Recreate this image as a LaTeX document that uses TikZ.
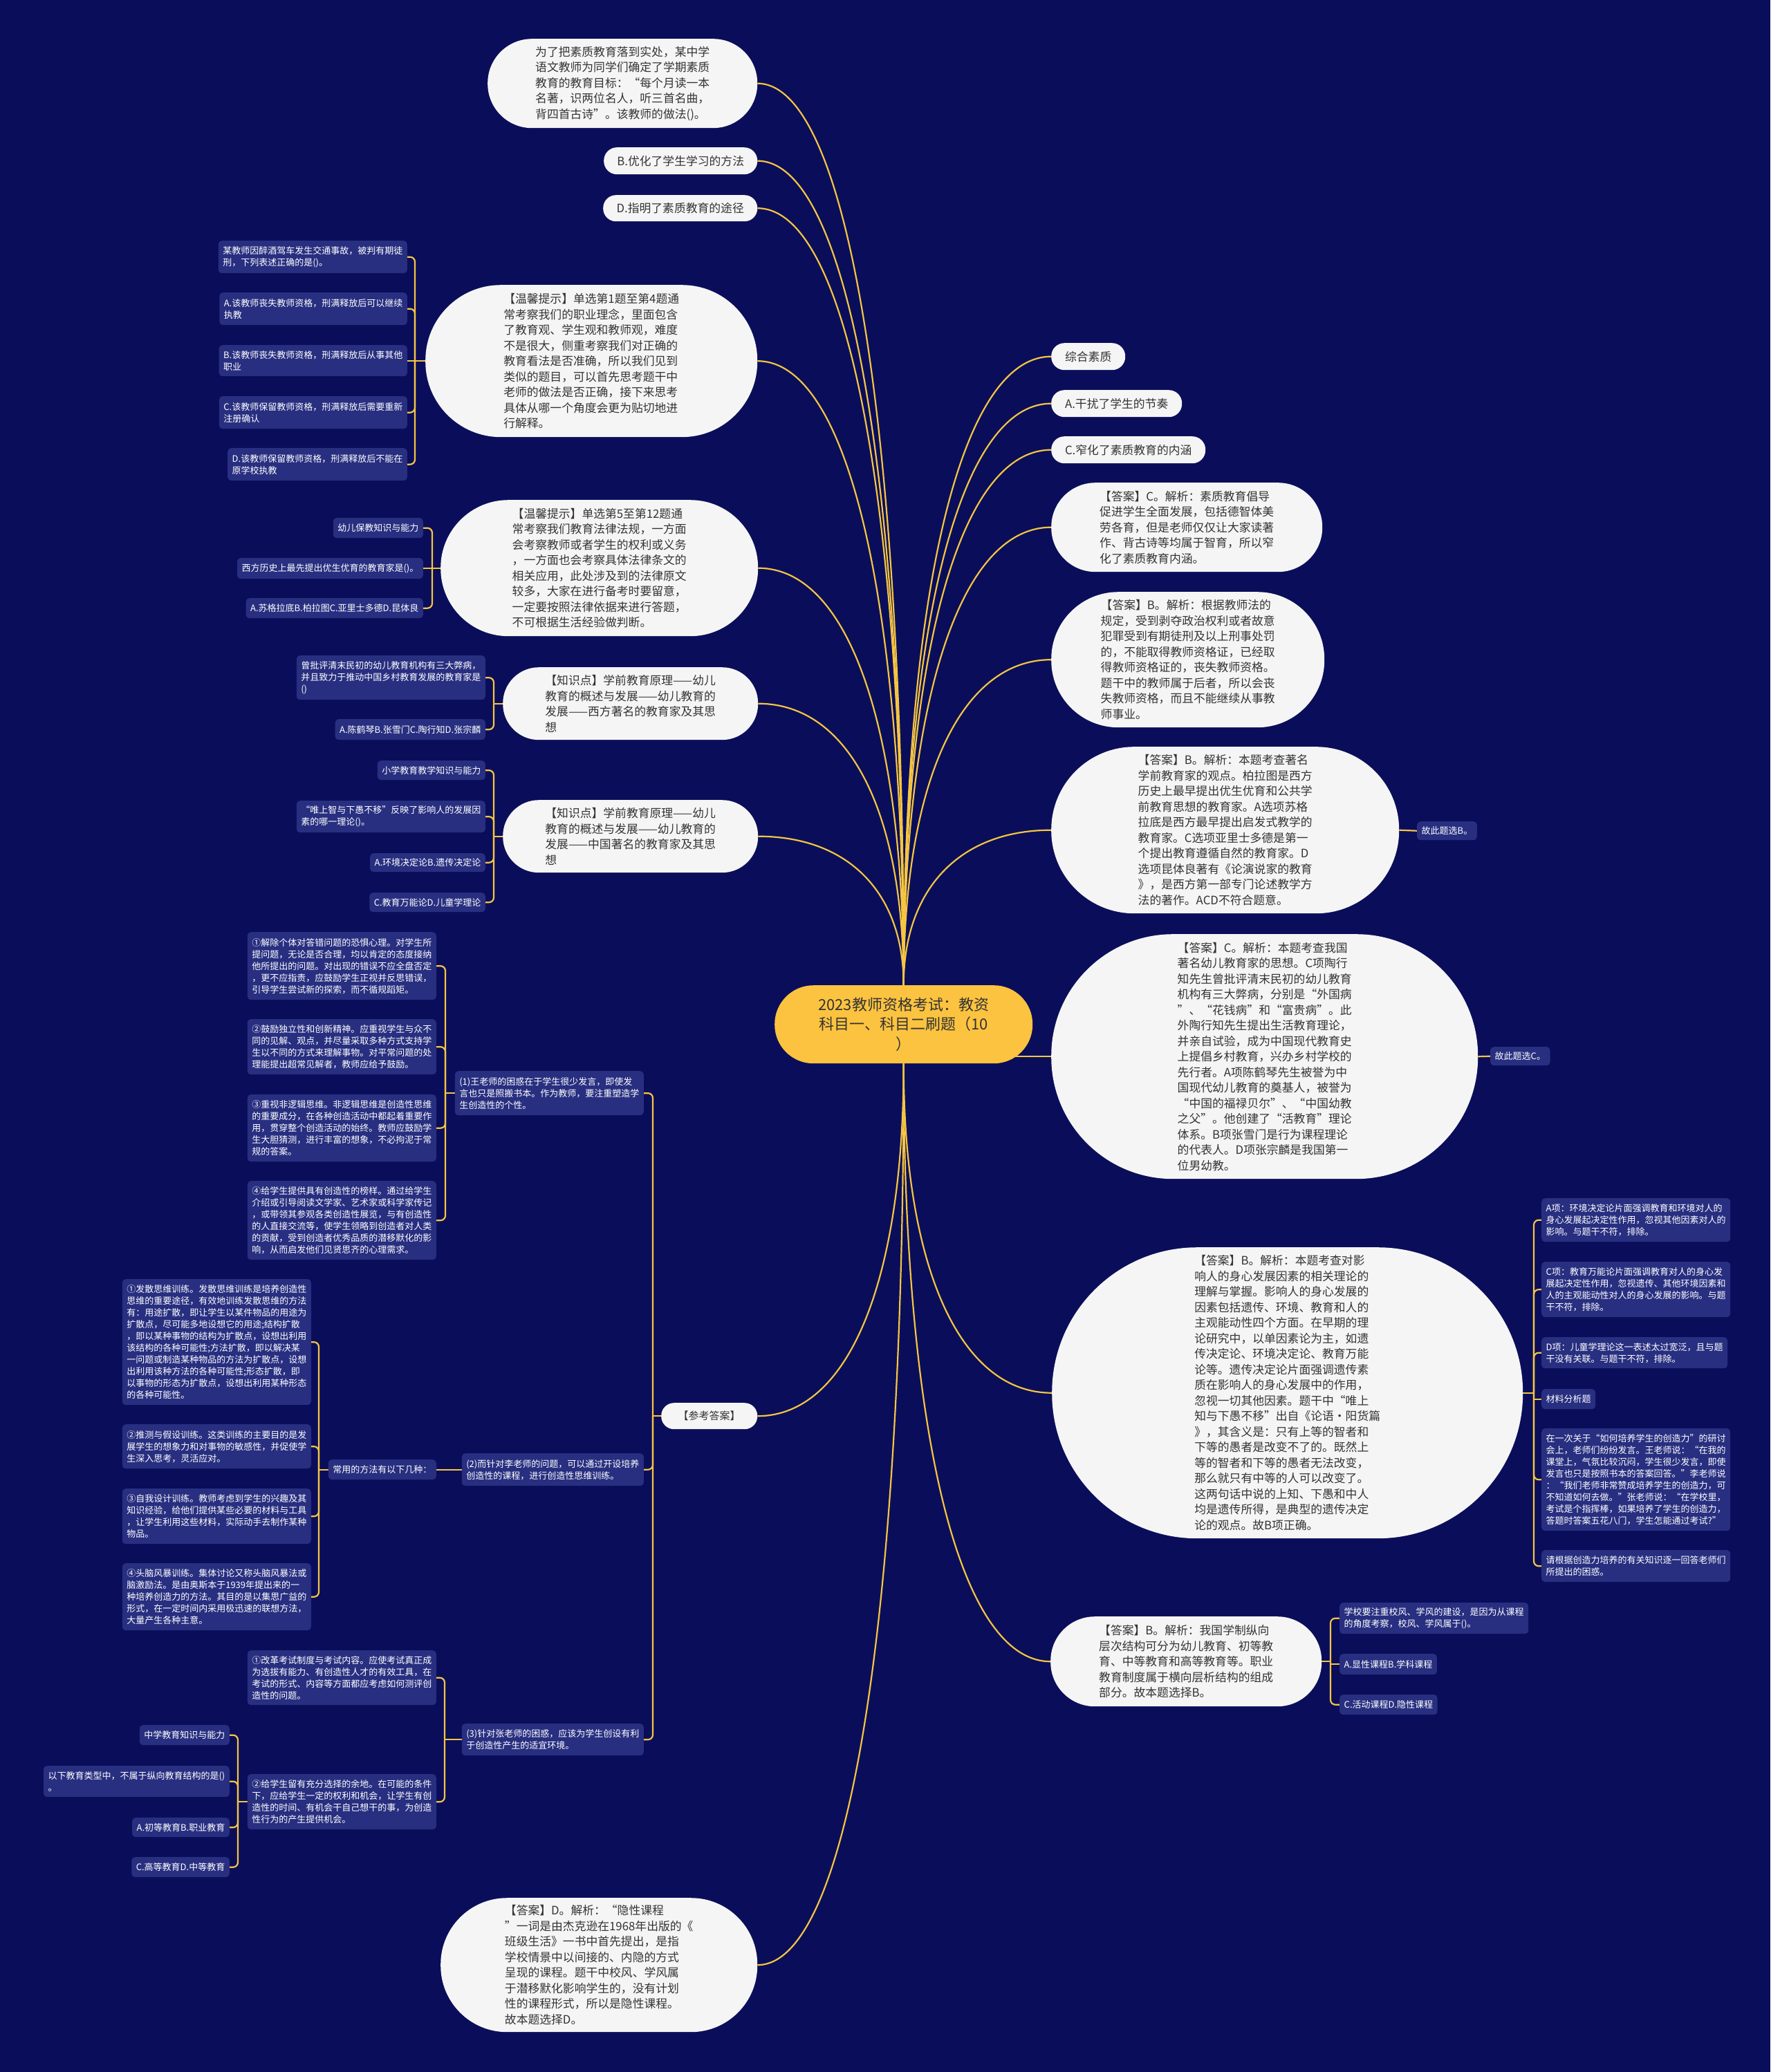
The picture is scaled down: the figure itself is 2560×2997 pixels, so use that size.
\documentclass[tikz,border=0pt]{standalone}
\usepackage{fontspec}
\setmainfont{Noto Sans CJK SC}
\usetikzlibrary{calc}
\definecolor{bgc}{HTML}{0A0E5A}
\definecolor{lnc}{HTML}{F5C542}
\definecolor{cen}{HTML}{FCC340}
\definecolor{wfl}{HTML}{F5F5F5}
\definecolor{dfl}{HTML}{282F80}
\definecolor{tdk}{HTML}{333333}
\pgfdeclarelayer{bgl}\pgfdeclarelayer{edl}\pgfsetlayers{bgl,edl,main}
\newcommand\mmlink[2]{\draw[ln] (#1) .. controls ($(#1)!0.62!(#1|-#2)$) and ($(#2)!0.62!(#1|-#2)$) .. (#2);}
\newcommand\mmstem[2]{\draw[ln] (#1) -- (#1-|#2);}
\newcommand\mmbrk[3]{\draw[ln,rounded corners=7pt] (#1-|#2) |- (#3);}
\newcommand\mmbrs[3]{\draw[ln] (#1-|#2) |- (#3);}
\tikzset{
 ln/.style={draw=lnc, line width=2.2pt},
 wt/.style={fill=wfl, text=tdk, align=left, inner sep=0pt, anchor=north west, font=\fontsize{16.8}{22.5}\selectfont},
 dk/.style={fill=dfl, text=white, align=left, inner xsep=6.5pt, inner ysep=0pt, rounded corners=5pt, anchor=north east, font=\fontsize{13}{17}\selectfont},
 dkr/.style={dk, anchor=north west},
}
\begin{document}
\begin{tikzpicture}[x=1pt,y=-1pt]
\useasboundingbox (0,0) rectangle (2560,2997);
\begin{pgfonlayer}{bgl}
\fill[bgc] (0,0) rectangle (2560,2997);
\end{pgfonlayer}

% center
\node[fill=cen, text=tdk, align=center, inner sep=0pt, minimum width=373pt, minimum height=113pt, rounded corners=56pt, anchor=north west, font=\fontsize{22}{28.5}\selectfont] (c) at (1120,1425) {2023教师资格考试：教资\\科目一、科目二刷题（10\\）};

% left white nodes
\node[wt, minimum width=390pt, minimum height=129pt, rounded corners=64pt] (n1) at (705,56) {为了把素质教育落到实处，某中学\\语文教师为同学们确定了学期素质\\教育的教育目标：“每个月读一本\\名著，识两位名人，听三首名曲，\\背四首古诗”。该教师的做法()。};
\node[wt, minimum width=222pt, minimum height=39pt, rounded corners=19pt] (n2) at (873,213) {B.优化了学生学习的方法};
\node[wt, minimum width=223pt, minimum height=38pt, rounded corners=18.5pt] (n3) at (872,282) {D.指明了素质教育的途径};
\node[wt, minimum width=480pt, minimum height=220pt, rounded corners=109pt] (t1) at (615,412) {【温馨提示】单选第1题至第4题通\\常考察我们的职业理念，里面包含\\了教育观、学生观和教师观，难度\\不是很大，侧重考察我们对正确的\\教育看法是否准确，所以我们见到\\类似的题目，可以首先思考题干中\\老师的做法是否正确，接下来思考\\具体从哪一个角度会更为贴切地进\\行解释。};
\node[wt, minimum width=459pt, minimum height=197pt, rounded corners=98pt] (t2) at (637,723) {【温馨提示】单选第5至第12题通\\常考察我们教育法律法规，一方面\\会考察教师或者学生的权利或义务\\，一方面也会考察具体法律条文的\\相关应用，此处涉及到的法律原文\\较多，大家在进行备考时要留意，\\一定要按照法律依据来进行答题，\\不可根据生活经验做判断。};
\node[wt, minimum width=369pt, minimum height=105pt, rounded corners=52pt] (k1) at (727,965) {【知识点】学前教育原理——幼儿\\教育的概述与发展——幼儿教育的\\发展——西方著名的教育家及其思\\想};
\node[wt, minimum width=369pt, minimum height=105pt, rounded corners=52pt] (k2) at (727,1157) {【知识点】学前教育原理——幼儿\\教育的概述与发展——幼儿教育的\\发展——中国著名的教育家及其思\\想};

% tip1 children
\node[dk, minimum height=47pt] (q1) at (589,348) {某教师因醉酒驾车发生交通事故，被判有期徒\\刑，下列表述正确的是()。};
\node[dk, minimum height=47pt] (qa) at (589,423) {A.该教师丧失教师资格，刑满释放后可以继续\\执教};
\node[dk, minimum height=45pt] (qb) at (589,499) {B.该教师丧失教师资格，刑满释放后从事其他\\职业};
\node[dk, minimum height=47pt] (qc) at (589,573) {C.该教师保留教师资格，刑满释放后需要重新\\注册确认};
\node[dk, minimum height=47pt] (qd) at (589,648) {D.该教师保留教师资格，刑满释放后不能在\\原学校执教};

% tip2 children
\node[dk, minimum height=29pt] (s1) at (612,749) {幼儿保教知识与能力};
\node[dk, minimum height=30pt] (s2) at (612,807) {西方历史上最先提出优生优育的教育家是()。};
\node[dk, minimum height=29pt] (s3) at (612,865) {A.苏格拉底B.柏拉图C.亚里士多德D.昆体良};

% k1 children
\node[dk, minimum height=64pt] (u1) at (702,948) {曾批评清末民初的幼儿教育机构有三大弊病，\\并且致力于推动中国乡村教育发展的教育家是\\()};
\node[dk, minimum height=30pt] (u2) at (702,1040) {A.陈鹤琴B.张雪门C.陶行知D.张宗麟};

% k2 children
\node[dk, minimum height=28pt] (v1) at (702,1100) {小学教育教学知识与能力};
\node[dk, minimum height=46pt] (v2) at (702,1158) {“唯上智与下愚不移”反映了影响人的发展因\\素的哪一理论()。};
\node[dk, minimum height=27pt] (v3) at (702,1234) {A.环境决定论B.遗传决定论};
\node[dk, minimum height=28pt] (v4) at (702,1291) {C.教育万能论D.儿童学理论};

% reference answer
\node[wt, align=center, minimum width=139pt, minimum height=38pt, rounded corners=18.5pt, font=\fontsize{15}{20}\selectfont] (ra) at (956,2029) {【参考答案】};
\node[dk, minimum height=64pt] (p1) at (931,1549) {(1)王老师的困惑在于学生很少发言，即使发\\言也只是照搬书本。作为教师，要注重塑造学\\生创造性的个性。};
\node[dk, minimum height=47pt] (p2) at (931,2102) {(2)而针对李老师的问题，可以通过开设培养\\创造性的课程，进行创造性思维训练。};
\node[dk, minimum height=46pt] (p3) at (931,2493) {(3)针对张老师的困惑，应该为学生创设有利\\于创造性产生的适宜环境。};

\node[dk, minimum height=98pt] (w1) at (631,1348) {①解除个体对答错问题的恐惧心理。对学生所\\提问题，无论是否合理，均以肯定的态度接纳\\他所提出的问题。对出现的错误不应全盘否定\\，更不应指责，应鼓励学生正视并反思错误，\\引导学生尝试新的探索，而不循规蹈矩。};
\node[dk, minimum height=80pt] (w2) at (631,1474) {②鼓励独立性和创新精神。应重视学生与众不\\同的见解、观点，并尽量采取多种方式支持学\\生以不同的方式来理解事物。对平常问题的处\\理能提出超常见解者，教师应给予鼓励。};
\node[dk, minimum height=97pt] (w3) at (631,1583) {③重视非逻辑思维。非逻辑思维是创造性思维\\的重要成分，在各种创造活动中都起着重要作\\用，贯穿整个创造活动的始终。教师应鼓励学\\生大胆猜测，进行丰富的想象，不必拘泥于常\\规的答案。};
\node[dk, minimum height=114pt] (w4) at (631,1708) {④给学生提供具有创造性的榜样。通过给学生\\介绍或引导阅读文学家、艺术家或科学家传记\\，或带领其参观各类创造性展览，与有创造性\\的人直接交流等，使学生领略到创造者对人类\\的贡献，受到创造者优秀品质的潜移默化的影\\响，从而启发他们见贤思齐的心理需求。};

\node[dk, minimum height=29pt] (cy) at (631,2111) {常用的方法有以下几种：};
\node[dk, minimum height=182pt] (x1) at (450,1850) {①发散思维训练。发散思维训练是培养创造性\\思维的重要途径，有效地训练发散思维的方法\\有：用途扩散，即让学生以某件物品的用途为\\扩散点，尽可能多地设想它的用途;结构扩散\\，即以某种事物的结构为扩散点，设想出利用\\该结构的各种可能性;方法扩散，即以解决某\\一问题或制造某种物品的方法为扩散点，设想\\出利用该种方法的各种可能性;形态扩散，即\\以事物的形态为扩散点，设想出利用某种形态\\的各种可能性。};
\node[dk, minimum height=64pt] (x2) at (450,2060) {②推测与假设训练。这类训练的主要目的是发\\展学生的想象力和对事物的敏感性，并促使学\\生深入思考，灵活应对。};
\node[dk, minimum height=80pt] (x3) at (450,2153) {③自我设计训练。教师考虑到学生的兴趣及其\\知识经验，给他们提供某些必要的材料与工具\\，让学生利用这些材料，实际动手去制作某种\\物品。};
\node[dk, minimum height=97pt] (x4) at (450,2261) {④头脑风暴训练。集体讨论又称头脑风暴法或\\脑激励法。是由奥斯本于1939年提出来的一\\种培养创造力的方法。其目的是以集思广益的\\形式，在一定时间内采用极迅速的联想方法，\\大量产生各种主意。};

\node[dk, minimum height=79pt] (y1) at (631,2387) {①改革考试制度与考试内容。应使考试真正成\\为选拔有能力、有创造性人才的有效工具，在\\考试的形式、内容等方面都应考虑如何测评创\\造性的问题。};
\node[dk, minimum height=80pt] (y2) at (631,2566) {②给学生留有充分选择的余地。在可能的条件\\下，应给学生一定的权利和机会，让学生有创\\造性的时间、有机会干自己想干的事，为创造\\性行为的产生提供机会。};

\node[dk, minimum height=29pt] (z1) at (332,2495) {中学教育知识与能力};
\node[dk, minimum height=45pt] (z2) at (332,2554) {以下教育类型中，不属于纵向教育结构的是()\\。};
\node[dk, minimum height=28pt] (z3) at (332,2629) {A.初等教育B.职业教育};
\node[dk, minimum height=29pt] (z4) at (332,2686) {C.高等教育D.中等教育};

\node[wt, minimum width=458pt, minimum height=194pt, rounded corners=96pt] (ad) at (637,2745) {【答案】D。解析：“隐性课程\\”一词是由杰克逊在1968年出版的《\\班级生活》一书中首先提出，是指\\学校情景中以间接的、内隐的方式\\呈现的课程。题干中校风、学风属\\于潜移默化影响学生的，没有计划\\性的课程形式，所以是隐性课程。\\故本题选择D。};

% right side
\node[wt, minimum width=107pt, minimum height=39pt, rounded corners=19pt] (r1) at (1520,496) {综合素质};
\node[wt, minimum width=189pt, minimum height=39pt, rounded corners=19pt] (r2) at (1520,564) {A.干扰了学生的节奏};
\node[wt, minimum width=223pt, minimum height=39pt, rounded corners=19pt] (r3) at (1520,631) {C.窄化了素质教育的内涵};
\node[wt, minimum width=392pt, minimum height=129pt, rounded corners=64pt] (a1) at (1520,698) {【答案】C。解析：素质教育倡导\\促进学生全面发展，包括德智体美\\劳各育，但是老师仅仅让大家读著\\作、背古诗等均属于智育，所以窄\\化了素质教育内涵。};
\node[wt, minimum width=395pt, minimum height=196pt, rounded corners=97pt] (a2) at (1520,856) {【答案】B。解析：根据教师法的\\规定，受到剥夺政治权利或者故意\\犯罪受到有期徒刑及以上刑事处罚\\的，不能取得教师资格证，已经取\\得教师资格证的，丧失教师资格。\\题干中的教师属于后者，所以会丧\\失教师资格，而且不能继续从事教\\师事业。};
\node[wt, minimum width=503pt, minimum height=241pt, rounded corners=120pt] (a3) at (1520,1080) {【答案】B。解析：本题考查著名\\学前教育家的观点。柏拉图是西方\\历史上最早提出优生优育和公共学\\前教育思想的教育家。A选项苏格\\拉底是西方最早提出启发式教学的\\教育家。C选项亚里士多德是第一\\个提出教育遵循自然的教育家。D\\选项昆体良著有《论演说家的教育\\》，是西方第一部专门论述教学方\\法的著作。ACD不符合题意。};
\node[dkr, minimum height=27pt] (g1) at (2049,1188) {故此题选B。};
\node[wt, minimum width=617pt, minimum height=354pt, rounded corners=176pt] (a4) at (1520,1351) {【答案】C。解析：本题考查我国\\著名幼儿教育家的思想。C项陶行\\知先生曾批评清末民初的幼儿教育\\机构有三大弊病，分别是“外国病\\”、“花钱病”和“富贵病”。此\\外陶行知先生提出生活教育理论，\\并亲自试验，成为中国现代教育史\\上提倡乡村教育，兴办乡村学校的\\先行者。A项陈鹤琴先生被誉为中\\国现代幼儿教育的奠基人，被誉为\\“中国的福禄贝尔”、“中国幼教\\之父”。他创建了“活教育”理论\\体系。B项张雪门是行为课程理论\\的代表人。D项张宗麟是我国第一\\位男幼教。};
\node[dkr, minimum height=27pt] (g2) at (2155,1514) {故此题选C。};
\node[wt, minimum width=681pt, minimum height=421pt, rounded corners=210pt] (a5) at (1521,1804) {【答案】B。解析：本题考查对影\\响人的身心发展因素的相关理论的\\理解与掌握。影响人的身心发展的\\因素包括遗传、环境、教育和人的\\主观能动性四个方面。在早期的理\\论研究中，以单因素论为主，如遗\\传决定论、环境决定论、教育万能\\论等。遗传决定论片面强调遗传素\\质在影响人的身心发展中的作用，\\忽视一切其他因素。题干中“唯上\\知与下愚不移”出自《论语·阳货篇\\》，其含义是：只有上等的智者和\\下等的愚者是改变不了的。既然上\\等的智者和下等的愚者无法改变，\\那么就只有中等的人可以改变了。\\这两句话中说的上知、下愚和中人\\均是遗传所得，是典型的遗传决定\\论的观点。故B项正确。};
\node[dkr, minimum height=63pt] (h1) at (2229,1733) {A项：环境决定论片面强调教育和环境对人的\\身心发展起决定性作用，忽视其他因素对人的\\影响。与题干不符，排除。};
\node[dkr, minimum height=80pt] (h2) at (2229,1825) {C项：教育万能论片面强调教育对人的身心发\\展起决定性作用，忽视遗传、其他环境因素和\\人的主观能动性对人的身心发展的影响。与题\\干不符，排除。};
\node[dkr, minimum height=45pt] (h3) at (2229,1934) {D项：儿童学理论这一表述太过宽泛，且与题\\干没有关联。与题干不符，排除。};
\node[dkr, minimum height=29pt] (h4) at (2229,2009) {材料分析题};
\node[dkr, minimum height=148pt] (h5) at (2229,2066) {在一次关于“如何培养学生的创造力”的研讨\\会上，老师们纷纷发言。王老师说：“在我的\\课堂上，气氛比较沉闷，学生很少发言，即使\\发言也只是按照书本的答案回答。”李老师说\\：“我们老师非常赞成培养学生的创造力，可\\不知道如何去做。”张老师说：“在学校里，\\考试是个指挥棒，如果培养了学生的创造力，\\答题时答案五花八门，学生怎能通过考试?”};
\node[dkr, minimum height=46pt] (h6) at (2229,2242) {请根据创造力培养的有关知识逐一回答老师们\\所提出的困惑。};
\node[wt, minimum width=392pt, minimum height=130pt, rounded corners=64pt] (a6) at (1519,2338) {【答案】B。解析：我国学制纵向\\层次结构可分为幼儿教育、初等教\\育、中等教育和高等教育等。职业\\教育制度属于横向层析结构的组成\\部分。故本题选择B。};
\node[dkr, minimum height=45pt] (m1) at (1937,2318) {学校要注重校风、学风的建设，是因为从课程\\的角度考察，校风、学风属于()。};
\node[dkr, minimum height=30pt] (m2) at (1937,2392) {A.显性课程B.学科课程};
\node[dkr, minimum height=29pt] (m3) at (1937,2451) {C.活动课程D.隐性课程};

% bracket coordinates
\coordinate (b1) at (600,0);
\coordinate (b2) at (625,0);
\coordinate (b3) at (714,0);
\coordinate (b5) at (944,0);
\coordinate (b6) at (644,0);
\coordinate (b7) at (461,0);
\coordinate (b8) at (643,0);
\coordinate (b9) at (344,0);
\coordinate (b10) at (2218,0);
\coordinate (b11) at (1924,0);

\begin{pgfonlayer}{edl}
% from center
\mmlink{c.north}{n1.east}
\mmlink{c.north}{n2.east}
\mmlink{c.north}{n3.east}
\mmlink{c.north}{t1.east}
\mmlink{c.north}{t2.east}
\mmlink{c.north}{k1.east}
\mmlink{c.north}{k2.east}
\mmlink{c.north}{r1.west}
\mmlink{c.north}{r2.west}
\mmlink{c.north}{r3.west}
\mmlink{c.north}{a1.west}
\mmlink{c.north}{a2.west}
\mmlink{c.north}{a3.west}
\draw[ln] (c.center|-a4.west) -- (a4.west);
\mmlink{c.south}{ra.east}
\mmlink{c.south}{ad.east}
\mmlink{c.south}{a5.west}
\mmlink{c.south}{a6.west}
\draw[ln] (a3.east) -- (g1.west);
\draw[ln] (a4.east) -- (g2.west);

% tip1
\mmstem{t1.west}{b1}
\mmbrk{t1.west}{b1}{q1.east}
\mmbrk{t1.west}{b1}{qa.east}
\mmbrs{t1.west}{b1}{qb.east}
\mmbrk{t1.west}{b1}{qc.east}
\mmbrk{t1.west}{b1}{qd.east}
% tip2
\mmstem{t2.west}{b2}
\mmbrk{t2.west}{b2}{s1.east}
\mmbrs{t2.west}{b2}{s2.east}
\mmbrk{t2.west}{b2}{s3.east}
% k1
\mmstem{k1.west}{b3}
\mmbrk{k1.west}{b3}{u1.east}
\mmbrk{k1.west}{b3}{u2.east}
% k2
\mmstem{k2.west}{b3}
\mmbrk{k2.west}{b3}{v1.east}
\mmbrk{k2.west}{b3}{v2.east}
\mmbrk{k2.west}{b3}{v3.east}
\mmbrk{k2.west}{b3}{v4.east}
% reference answer
\mmstem{ra.west}{b5}
\mmbrk{ra.west}{b5}{p1.east}
\mmbrk{ra.west}{b5}{p2.east}
\mmbrk{ra.west}{b5}{p3.east}
% (1)
\mmstem{p1.west}{b6}
\mmbrk{p1.west}{b6}{w1.east}
\mmbrk{p1.west}{b6}{w2.east}
\mmbrk{p1.west}{b6}{w3.east}
\mmbrk{p1.west}{b6}{w4.east}
% (2)
\draw[ln] (p2.west) -- (cy.east);
\mmstem{cy.west}{b7}
\mmbrk{cy.west}{b7}{x1.east}
\mmbrk{cy.west}{b7}{x2.east}
\mmbrk{cy.west}{b7}{x3.east}
\mmbrk{cy.west}{b7}{x4.east}
% (3)
\mmstem{p3.west}{b8}
\mmbrk{p3.west}{b8}{y1.east}
\mmbrk{p3.west}{b8}{y2.east}
\mmstem{y2.west}{b9}
\mmbrk{y2.west}{b9}{z1.east}
\mmbrk{y2.west}{b9}{z2.east}
\mmbrk{y2.west}{b9}{z3.east}
\mmbrk{y2.west}{b9}{z4.east}
% a5
\mmstem{a5.east}{b10}
\mmbrk{a5.east}{b10}{h1.west}
\mmbrk{a5.east}{b10}{h2.west}
\mmbrk{a5.east}{b10}{h3.west}
\mmbrs{a5.east}{b10}{h4.west}
\mmbrk{a5.east}{b10}{h5.west}
\mmbrk{a5.east}{b10}{h6.west}
% a6
\mmstem{a6.east}{b11}
\mmbrk{a6.east}{b11}{m1.west}
\mmbrs{a6.east}{b11}{m2.west}
\mmbrk{a6.east}{b11}{m3.west}
\end{pgfonlayer}
\end{tikzpicture}
\end{document}
